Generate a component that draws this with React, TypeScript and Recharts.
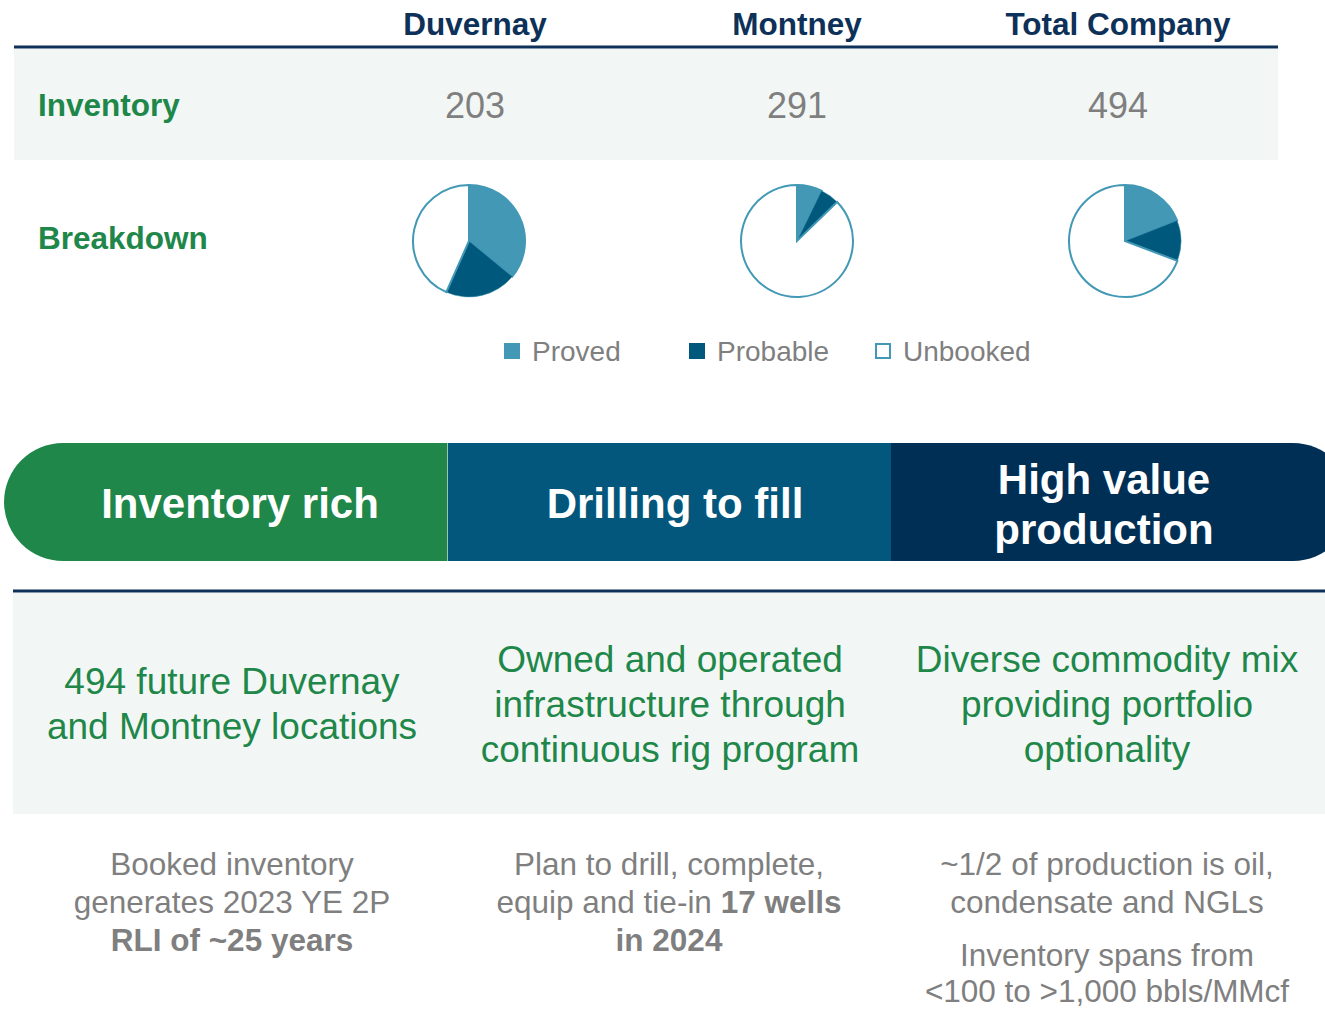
import React from 'react';
import { PieChart, Pie, Cell, Customized } from 'recharts';

const regions = ['Duvernay', 'Montney', 'Total Company'];
const inventory = [203, 291, 494];
const categories = ['Proved', 'Probable', 'Unbooked'];
const duvernay = [73, 42, 88];
const montney = [21, 16, 254];
const totalCompany = [94, 58, 342];

const pillars = [['Inventory rich'], ['Drilling to fill'], ['High value', 'production']];
const pillarText = [
  ['494 future Duvernay', 'and Montney locations'],
  ['Owned and operated', 'infrastructure through', 'continuous rig program'],
  ['Diverse commodity mix', 'providing portfolio', 'optionality'],
];

const W = 1325;
const H = 1010;
const FONT = '"Liberation Sans", Arial, sans-serif';
const NAVY = '#0D3158';
const GREEN = '#1E8749';
const GRAY = '#7F7F7F';
const LIGHT = '#F2F7F6';
const sliceColors = ['#4298B5', '#00587C', '#FFFFFF'];
const colX = [475, 797, 1118];
const pieX = [469, 797, 1125];
const pillarX = [232, 670, 1107];

const toData = (vals: number[]) => vals.map((v, i) => ({ name: categories[i], value: v }));
const pieSets = [toData(duvernay), toData(montney), toData(totalCompany)];

const Layout = () => (
  <g style={{ fontFamily: FONT }}>
    {/* header */}
    {regions.map((r, i) => (
      <text key={r} x={colX[i]} y={24} textAnchor="middle" dominantBaseline="central" fontSize={31.5} fontWeight="bold" fill={NAVY}>
        {r}
      </text>
    ))}
    <line x1={14} x2={1278} y1={47} y2={47} stroke={NAVY} strokeWidth={3} />
    <rect x={14} y={49} width={1264} height={111} fill={LIGHT} />
    <text x={38} y={105} dominantBaseline="central" fontSize={31.5} fontWeight="bold" fill={GREEN}>Inventory</text>
    {inventory.map((v, i) => (
      <text key={i} x={colX[i]} y={105} textAnchor="middle" dominantBaseline="central" fontSize={36} fill={GRAY}>
        {v}
      </text>
    ))}
    <text x={38} y={238} dominantBaseline="central" fontSize={31.5} fontWeight="bold" fill={GREEN}>Breakdown</text>

    {/* legend */}
    {categories.map((c, i) => {
      const lx = [504, 689, 875][i];
      return (
        <g key={c}>
          {i < 2 ? (
            <rect x={lx} y={343} width={16} height={16} fill={sliceColors[i]} />
          ) : (
            <rect x={lx + 1} y={344} width={14} height={14} fill="#FFFFFF" stroke="#4298B5" strokeWidth={2} />
          )}
          <text x={lx + 28} y={351} dominantBaseline="central" fontSize={28} fill={GRAY}>{c}</text>
        </g>
      );
    })}

    {/* banner */}
    <path d="M 448 443 H 63 A 59 59 0 0 0 63 561 H 448 Z" fill="#1E8749" />
    <rect x={448} y={443} width={443} height={118} fill="#03567C" />
    <path d="M 891 443 H 1293 A 59 59 0 0 1 1293 561 H 891 Z" fill="#002F56" />
    <line x1={447.5} x2={447.5} y1={443} y2={561} stroke="#9CC5B0" strokeWidth={1} />
    {pillars.map((lines, i) =>
      lines.map((t, j) => (
        <text key={`${i}-${j}`} x={[240, 675, 1104][i]} y={lines.length === 1 ? 503 : 479 + j * 50}
          textAnchor="middle" dominantBaseline="central" fontSize={42} fontWeight="bold" fill="#FFFFFF">
          {t}
        </text>
      ))
    )}

    {/* pillar description band */}
    <line x1={13} x2={1325} y1={591} y2={591} stroke={NAVY} strokeWidth={3} />
    <rect x={13} y={593} width={1312} height={221} fill={LIGHT} />
    {pillarText.map((lines, i) =>
      lines.map((t, j) => {
        const y0 = lines.length === 2 ? 681 : 659;
        return (
          <text key={`${i}-${j}`} x={pillarX[i]} y={y0 + j * 45} textAnchor="middle" dominantBaseline="central" fontSize={37} fill={GREEN}>
            {t}
          </text>
        );
      })
    )}

    {/* bottom notes */}
    <g fontSize={31.5} fill={GRAY} textAnchor="middle">
      <text x={232} y={864} dominantBaseline="central">Booked inventory</text>
      <text x={232} y={902} dominantBaseline="central">generates 2023 YE 2P</text>
      <text x={232} y={940} dominantBaseline="central" fontWeight="bold">RLI of ~25 years</text>

      <text x={669} y={864} dominantBaseline="central">Plan to drill, complete,</text>
      <text x={669} y={902} dominantBaseline="central">
        equip and tie-in <tspan fontWeight="bold">17 wells</tspan>
      </text>
      <text x={669} y={940} dominantBaseline="central" fontWeight="bold">in 2024</text>

      <text x={1107} y={864} dominantBaseline="central">~1/2 of production is oil,</text>
      <text x={1107} y={902} dominantBaseline="central">condensate and NGLs</text>
      <text x={1107} y={955} dominantBaseline="central">Inventory spans from</text>
      <text x={1107} y={991} dominantBaseline="central">&lt;100 to &gt;1,000 bbls/MMcf</text>
    </g>
  </g>
);

export default function App() {
  return (
    <div style={{ position: 'absolute', left: 0, top: 0, width: W, height: H, background: '#FFFFFF' }}>
      <PieChart width={W} height={H} margin={{ top: 0, right: 0, bottom: 0, left: 0 }}>
        <Customized component={<Layout />} />
        {pieSets.map((data, k) => (
          <Pie
            key={regions[k]}
            data={data}
            dataKey="value"
            nameKey="name"
            cx={pieX[k]}
            cy={241}
            outerRadius={56}
            innerRadius={0}
            startAngle={90}
            endAngle={-270}
            isAnimationActive={false}
            stroke="#4298B5"
            strokeWidth={2}
          >
            {data.map((d, i) => (
              <Cell key={d.name} fill={sliceColors[i]} stroke="#4298B5" strokeWidth={i === 1 ? 0.5 : 2} />
            ))}
          </Pie>
        ))}
      </PieChart>
    </div>
  );
}
